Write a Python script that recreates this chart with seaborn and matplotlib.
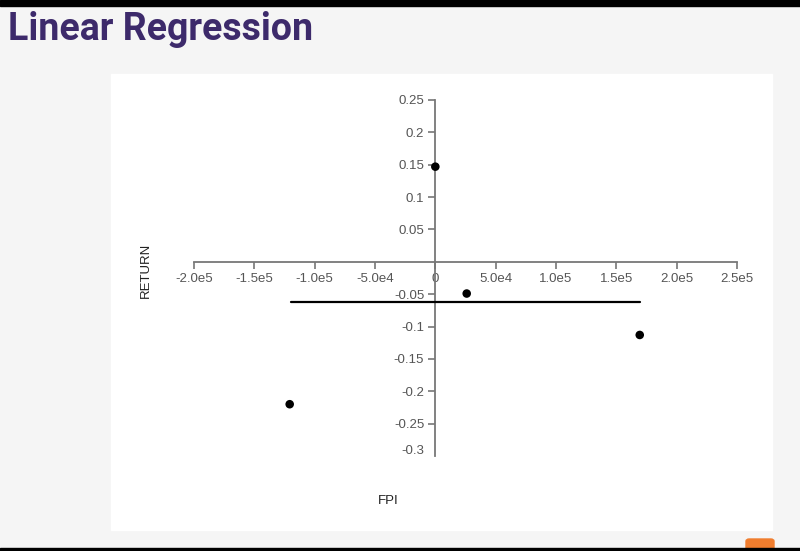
import matplotlib
matplotlib.use("Agg")
import matplotlib.pyplot as plt
import matplotlib.transforms as mtransforms
import seaborn as sns
import pandas as pd
from matplotlib.patches import Rectangle, FancyBboxPatch

# ---- data ----
fpi = [0, 26000, 169400, -120700]
ret = [0.147, -0.049, -0.113, -0.220]
line_fpi = [-120000, 170000]
line_ret = [-0.062, -0.062]
x_ticks = [-200000, -150000, -100000, -50000, 0, 50000, 100000, 150000, 200000, 250000]
x_tick_labels = ["-2.0e5", "-1.5e5", "-1.0e5", "-5.0e4", "0", "5.0e4", "1.0e5", "1.5e5", "2.0e5", "2.5e5"]
y_ticks = [0.25, 0.2, 0.15, 0.1, 0.05, -0.05, -0.1, -0.15, -0.2, -0.25, -0.3]
y_tick_labels = ["0.25", "0.2", "0.15", "0.1", "0.05", "-0.05", "-0.1", "-0.15", "-0.2", "-0.25", "-0.3"]
title = "Linear Regression"
x_label = "FPI"
y_label = "RETURN"

sns.set_style("white")
plt.rcParams['font.family'] = ['Liberation Sans', 'DejaVu Sans']

W, H = 800, 551
fig = plt.figure(figsize=(8, 5.51), dpi=100)
fig.patch.set_facecolor("#f5f5f5")

def fx(px):
    return px / W
def fy(py):
    return 1 - py / H

# top black bar and bottom line
fig.add_artist(Rectangle((0, fy(6)), 1, 6 / H, transform=fig.transFigure, color="black", zorder=0))
fig.add_artist(Rectangle((0, 0), 1, 3 / H, transform=fig.transFigure, color="black", zorder=5))
# white card
fig.add_artist(Rectangle((fx(111), fy(530)), (772 - 111) / W, (530 - 74) / H,
                         transform=fig.transFigure, color="white", zorder=0))
# orange icon
fig.add_artist(FancyBboxPatch((fx(746), fy(551)), 28 / W, 12 / H, boxstyle="round,pad=0,rounding_size=0.004",
                              transform=fig.transFigure, color="#f07d2e", zorder=4))

fig.text(fx(8), fy(30), title, fontsize=27, fontweight="bold", color="#3d2a6b",
         family=["Roboto", "DejaVu Sans"], va="center", ha="left")

# axes positioned in pixel box
x0, x1 = 194, 737   # -2e5 .. 2.5e5
y0, y1 = 100, 456   # 0.25 .. -0.3
ax = fig.add_axes([fx(x0), fy(y1), (x1 - x0) / W, (y1 - y0) / H])
ax.set_facecolor("none")

df = pd.DataFrame({"FPI": fpi, "RETURN": ret})
ldf = pd.DataFrame({"FPI": line_fpi, "RETURN": line_ret})
sns.lineplot(data=ldf, x="FPI", y="RETURN", ax=ax, color="black", linewidth=1.6, zorder=3)
sns.scatterplot(data=df, x="FPI", y="RETURN", ax=ax, color="black", s=38, edgecolor="none", zorder=4)

ax.set_xlim(-200000, 250000)
ax.set_ylim(-0.3, 0.25)
for s in ["top", "right"]:
    ax.spines[s].set_visible(False)
ax.spines["left"].set_position(("data", 0))
ax.spines["bottom"].set_position(("data", 0))
for s in ["left", "bottom"]:
    ax.spines[s].set_color("#777777")
    ax.spines[s].set_linewidth(1.3)

ax.set_xticks(x_ticks)
ax.set_xticklabels(x_tick_labels)
ax.set_yticks(y_ticks)
ax.set_yticklabels(y_tick_labels)
ax.tick_params(axis="both", direction="out", length=5, width=1.2, color="#777777",
               labelsize=9.5, labelcolor="#555555", pad=3)
ax.tick_params(axis="x", bottom=True)
ax.tick_params(axis="y", left=True)
ax.set_xlabel("")
ax.set_ylabel("")

# last y tick (-0.3): no tick mark, label sits slightly above the axis end
last = ax.yaxis.get_major_ticks()[-1]
last.tick1line.set_visible(False)
last.label1.set_transform(last.label1.get_transform() +
                          mtransforms.ScaledTranslation(0, 6 / 100, fig.dpi_scale_trans))

fig.text(fx(388), fy(501), x_label, fontsize=9.5, color="#222222", ha="center", va="center")
fig.text(fx(146), fy(270), y_label, fontsize=9.5, color="#222222", ha="center", va="center", rotation=90)

fig.savefig("out.png", dpi=100, facecolor=fig.get_facecolor())
